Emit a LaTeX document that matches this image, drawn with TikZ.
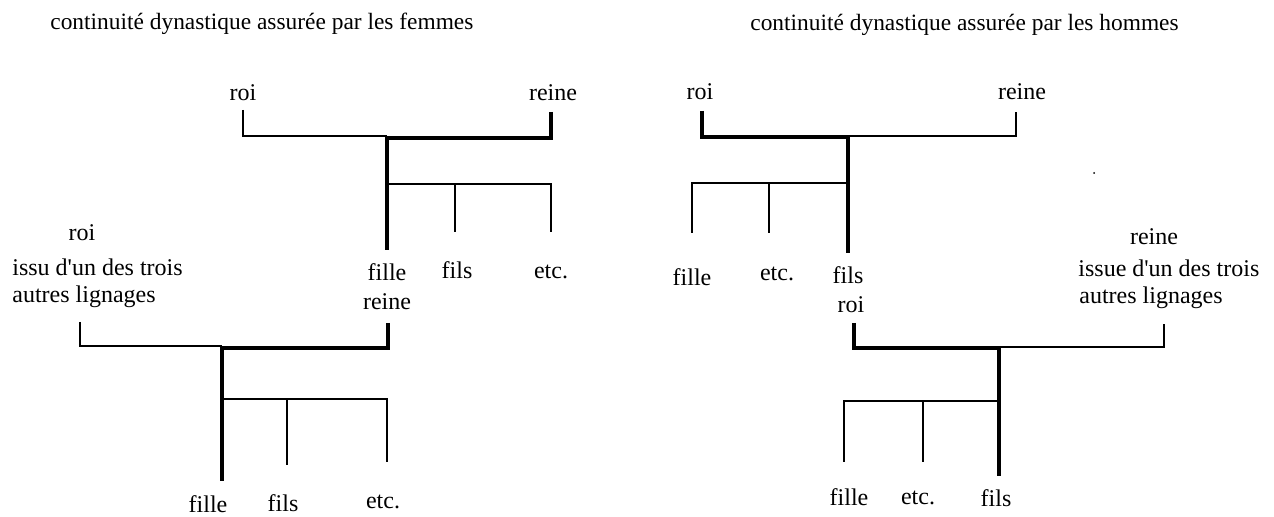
\documentclass[tikz,border=0pt]{standalone}
\usepackage{fontspec}
\newfontfamily\plainserif{Liberation Serif}
\begin{document}
\begin{tikzpicture}[x=0.5pt,y=-0.5pt,
  every node/.style={font=\plainserif\fontsize{12}{14}\selectfont, inner sep=0pt},
  titlestyle/.style={anchor=west, font=\plainserif\fontsize{11.7}{14}\selectfont},
  thinl/.style={line width=0.7pt},
  thickl/.style={line width=2pt}]
\useasboundingbox (0,0) rectangle (1274,517);

% titles
\node[titlestyle] (titleA) at (50,24) {continuité dynastique assurée par les femmes};
\node[titlestyle] (titleB) at (750,25) {continuité dynastique assurée par les hommes};

% ---------- tree A (top left)
\node (Aroi) at (243,93) {roi};
\node (Areine) at (553,93) {reine};
\coordinate (Aroit) at (243,110);
\coordinate (Areinet) at (551,112);
\coordinate (Aj) at (387,136);
\coordinate (Ajk) at (387,138);
\coordinate (Ab) at (387,250);
\coordinate (Ac) at (387,184);
\coordinate (Aetcb) at (551,232);
\coordinate (Afilst) at (455,184);
\coordinate (Afilsb) at (455,232);
\draw[thinl] (Aroit) |- (Aj);
\draw[thickl] (Areinet) |- (Ajk) -- (Ab);
\draw[thinl] (Ac) -| (Aetcb);
\draw[thinl] (Afilst) -- (Afilsb);
\node (Afille) at (387,272) {fille};
\node (Afils) at (457,270) {fils};
\node (Aetc) at (551,272) {etc.};
\node (Areine2) at (387,302) {reine};

% ---------- tree B (bottom left)
\node (Broi) at (82,233) {roi};
\node[anchor=west] (Bissu) at (12,267) {issu d'un des trois};
\node[anchor=west] (Bautres) at (12,297) {autres lignages};
\coordinate (Broit) at (80,322);
\coordinate (Breinet) at (388,323);
\coordinate (Bj) at (222,346);
\coordinate (Bjk) at (222,348);
\coordinate (Bb) at (222,481);
\coordinate (Bc) at (222,399);
\coordinate (Betcb) at (387,462);
\coordinate (Bfilst) at (287,399);
\coordinate (Bfilsb) at (287,465);
\draw[thinl] (Broit) |- (Bj);
\draw[thickl] (Breinet) |- (Bjk) -- (Bb);
\draw[thinl] (Bc) -| (Betcb);
\draw[thinl] (Bfilst) -- (Bfilsb);
\node (Bfille) at (208,504) {fille};
\node (Bfils) at (283,503) {fils};
\node (Betc) at (383,502) {etc.};

% ---------- tree C (top right)
\node (Croi) at (700,92) {roi};
\node (Creine) at (1022,92) {reine};
\coordinate (Croit) at (702,111);
\coordinate (Creinet) at (1016,112);
\coordinate (Cj) at (848,136);
\coordinate (Cjk) at (848,137);
\coordinate (Cb) at (848,253);
\coordinate (Cc) at (848,183);
\coordinate (Cfilleb) at (692,233);
\coordinate (Cetct) at (769,183);
\coordinate (Cetcb) at (769,233);
\draw[thinl] (Cj) -| (Creinet);
\draw[thickl] (Croit) |- (Cjk) -- (Cb);
\draw[thinl] (Cc) -| (Cfilleb);
\draw[thinl] (Cetct) -- (Cetcb);
\node (Cfille) at (692,277) {fille};
\node (Cetc) at (777,274) {etc.};
\node (Cfils) at (848,275) {fils};
\node (Croi2) at (851,305) {roi};
\fill (1094,173) circle (1);

% ---------- tree D (bottom right)
\node (Dreine) at (1154,237) {reine};
\node[anchor=west] (Dissue) at (1078,268) {issue d'un des trois};
\node[anchor=west] (Dautres) at (1079,298) {autres lignages};
\coordinate (Droit) at (854,323);
\coordinate (Dreinet) at (1164,324);
\coordinate (Dj) at (999,347);
\coordinate (Djk) at (999,348);
\coordinate (Db) at (999,476);
\coordinate (Dc) at (999,401);
\coordinate (Dfilleb) at (844,462);
\coordinate (Detct) at (923,401);
\coordinate (Detcb) at (923,462);
\draw[thinl] (Dj) -| (Dreinet);
\draw[thickl] (Droit) |- (Djk) -- (Db);
\draw[thinl] (Dc) -| (Dfilleb);
\draw[thinl] (Detct) -- (Detcb);
\node (Dfille) at (849,497) {fille};
\node (Detc) at (918,498) {etc.};
\node (Dfils) at (996,498) {fils};
\end{tikzpicture}
\end{document}
